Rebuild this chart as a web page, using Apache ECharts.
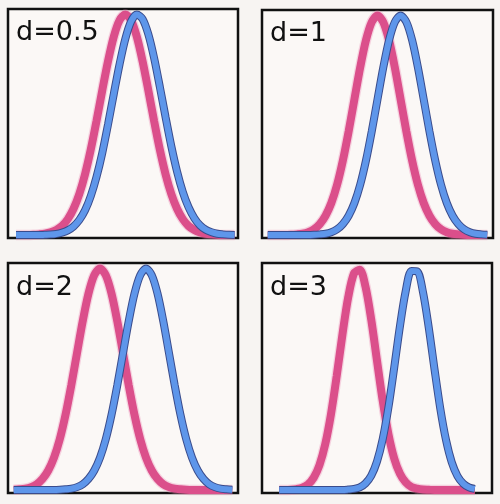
<!DOCTYPE html>
<html>
<head>
<meta charset="utf-8">
<script src="https://cdn.jsdelivr.net/npm/echarts@6/dist/echarts.min.js"></script>
<style>
html,body{margin:0;padding:0;background:#f7f4f2;}
#chart{width:500px;height:504px;}
</style>
</head>
<body>
<div id="chart"></div>
<script>
// shared x sample positions (arbitrary units across each panel)
const xs = [0,2.5,5,7.5,10,12.5,15,17.5,20,22.5,25,27.5,30,32.5,35,37.5,40,42.5,45,47.5,50,52.5,55,57.5,60,62.5,65,67.5,70,72.5,75,77.5,80,82.5,85,87.5,90,92.5,95,97.5,100];

const labels = ['d=0.5','d=1','d=2','d=3'];

// d = 0.5
const pinkD05 = [null,0,0,0,0.001,0.003,0.006,0.012,0.023,0.041,0.072,0.119,0.186,0.276,0.388,0.518,0.657,0.789,0.900,0.974,1.000,0.974,0.900,0.789,0.657,0.518,0.388,0.276,0.186,0.119,0.072,0.041,0.023,0.012,0.006,0.003,0.001,0,0,0,null];
const blueD05 = [null,0,0,0,0,0,0.001,0.002,0.005,0.011,0.021,0.039,0.068,0.112,0.177,0.264,0.373,0.502,0.640,0.774,0.889,0.968,1.000,0.980,0.911,0.804,0.673,0.535,0.403,0.288,0.195,0.126,0.077,0.044,0.024,0.013,0.006,0.003,0.001,0,null];

// d = 1
const pinkD1 = [null,0,0,0,0,0.001,0.003,0.006,0.013,0.026,0.050,0.088,0.146,0.229,0.339,0.472,0.618,0.763,0.887,0.970,1.000,0.970,0.887,0.763,0.618,0.472,0.339,0.229,0.146,0.088,0.050,0.026,0.013,0.006,0.003,0.001,0,0,0,0,null];
const blueD1 = [null,0,0,0,0,0,0,0,0,0.001,0.003,0.006,0.013,0.026,0.050,0.088,0.146,0.229,0.339,0.472,0.618,0.763,0.887,0.970,1.000,0.970,0.887,0.763,0.618,0.472,0.339,0.229,0.146,0.088,0.050,0.026,0.013,0.006,0.003,0.001,null];

// d = 2
const pinkD2 = [null,0.001,0.003,0.006,0.013,0.026,0.050,0.088,0.146,0.229,0.339,0.472,0.618,0.763,0.887,0.970,1.000,0.970,0.887,0.763,0.618,0.472,0.339,0.229,0.146,0.088,0.050,0.026,0.013,0.006,0.003,0.001,0,0,0,0,0,0,0,0,null];
const blueD2 = [null,0,0,0,0,0,0,0,0,0.001,0.003,0.006,0.013,0.026,0.050,0.088,0.146,0.229,0.339,0.472,0.618,0.763,0.887,0.970,1.000,0.970,0.887,0.763,0.618,0.472,0.339,0.229,0.146,0.088,0.050,0.026,0.013,0.006,0.003,0.001,null];

// d = 3 (curves drawn only between x=7.5 and x=92.5)
const pinkD3 = [null,null,null,0,0,0.001,0.004,0.010,0.025,0.056,0.113,0.207,0.343,0.516,0.704,0.871,0.978,0.995,0.918,0.769,0.584,0.402,0.251,0.142,0.073,0.034,0.014,0.006,0.002,0.001,0,0,0,0,0,0,0,0,null,null,null];
const blueD3 = [null,null,null,0,0,0,0,0,0,0,0,0,0,0,0,0.002,0.005,0.012,0.030,0.065,0.129,0.231,0.375,0.554,0.741,0.899,0.989,0.987,0.893,0.733,0.546,0.369,0.226,0.125,0.063,0.029,0.012,0.005,null,null,null];

const panels = [
  {label: labels[0], pink: pinkD05, blue: blueD05},
  {label: labels[1], pink: pinkD1,  blue: blueD1},
  {label: labels[2], pink: pinkD2,  blue: blueD2},
  {label: labels[3], pink: pinkD3,  blue: blueD3}
];

const gridBoxes = [
  {left: 8,   top: 9,   width: 230, height: 229, xmin: -1, xmax: 99},
  {left: 262, top: 10,  width: 231, height: 228, xmin: 0,  xmax: 100},
  {left: 8,   top: 263, width: 230, height: 230, xmin: 0,  xmax: 100},
  {left: 262, top: 263, width: 230, height: 230, xmin: 0,  xmax: 100}
];
const labelPos = [[16,19],[270,20],[16,274],[270,274]];

const toPairs = arr => xs.map((x,i) => [x, arr[i] === null ? '-' : arr[i]]);

const grids = [], xAxes = [], yAxes = [], series = [], graphics = [];
panels.forEach((p, k) => {
  const g = gridBoxes[k];
  grids.push({left: g.left, top: g.top, width: g.width, height: g.height,
    show: true, backgroundColor: '#fbf8f6', borderColor: '#111', borderWidth: 2.5, containLabel: false});
  xAxes.push({type: 'value', gridIndex: k, min: g.xmin, max: g.xmax,
    axisLine: {show: false}, axisTick: {show: false}, axisLabel: {show: false}, splitLine: {show: false}});
  yAxes.push({type: 'value', gridIndex: k, min: -0.0135, max: 1.025,
    axisLine: {show: false}, axisTick: {show: false}, axisLabel: {show: false}, splitLine: {show: false}});
  const common = {type: 'line', xAxisIndex: k, yAxisIndex: k, showSymbol: false, smooth: 0.3,
    silent: true, animation: false, connectNulls: false};
  series.push(Object.assign({}, common, {data: toPairs(p.pink), z: 2,
    lineStyle: {color: 'rgba(235,140,180,0.35)', width: 10.5}}));
  series.push(Object.assign({}, common, {data: toPairs(p.pink), z: 3,
    lineStyle: {color: '#db4f8b', width: 8}}));
  series.push(Object.assign({}, common, {data: toPairs(p.blue), z: 4,
    lineStyle: {color: '#3a4c8c', width: 8}}));
  series.push(Object.assign({}, common, {data: toPairs(p.blue), z: 5,
    lineStyle: {color: '#5e96ea', width: 6}}));
  graphics.push({type: 'text', left: labelPos[k][0], top: labelPos[k][1], z: 10,
    style: {text: p.label, font: '27px "DejaVu Sans"', fill: '#111'}});
});

const chart = echarts.init(document.getElementById('chart'), null, {renderer: 'canvas'});
chart.setOption({
  backgroundColor: '#f7f4f2',
  animation: false,
  grid: grids,
  xAxis: xAxes,
  yAxis: yAxes,
  series: series,
  graphic: graphics
});
</script>
</body>
</html>
